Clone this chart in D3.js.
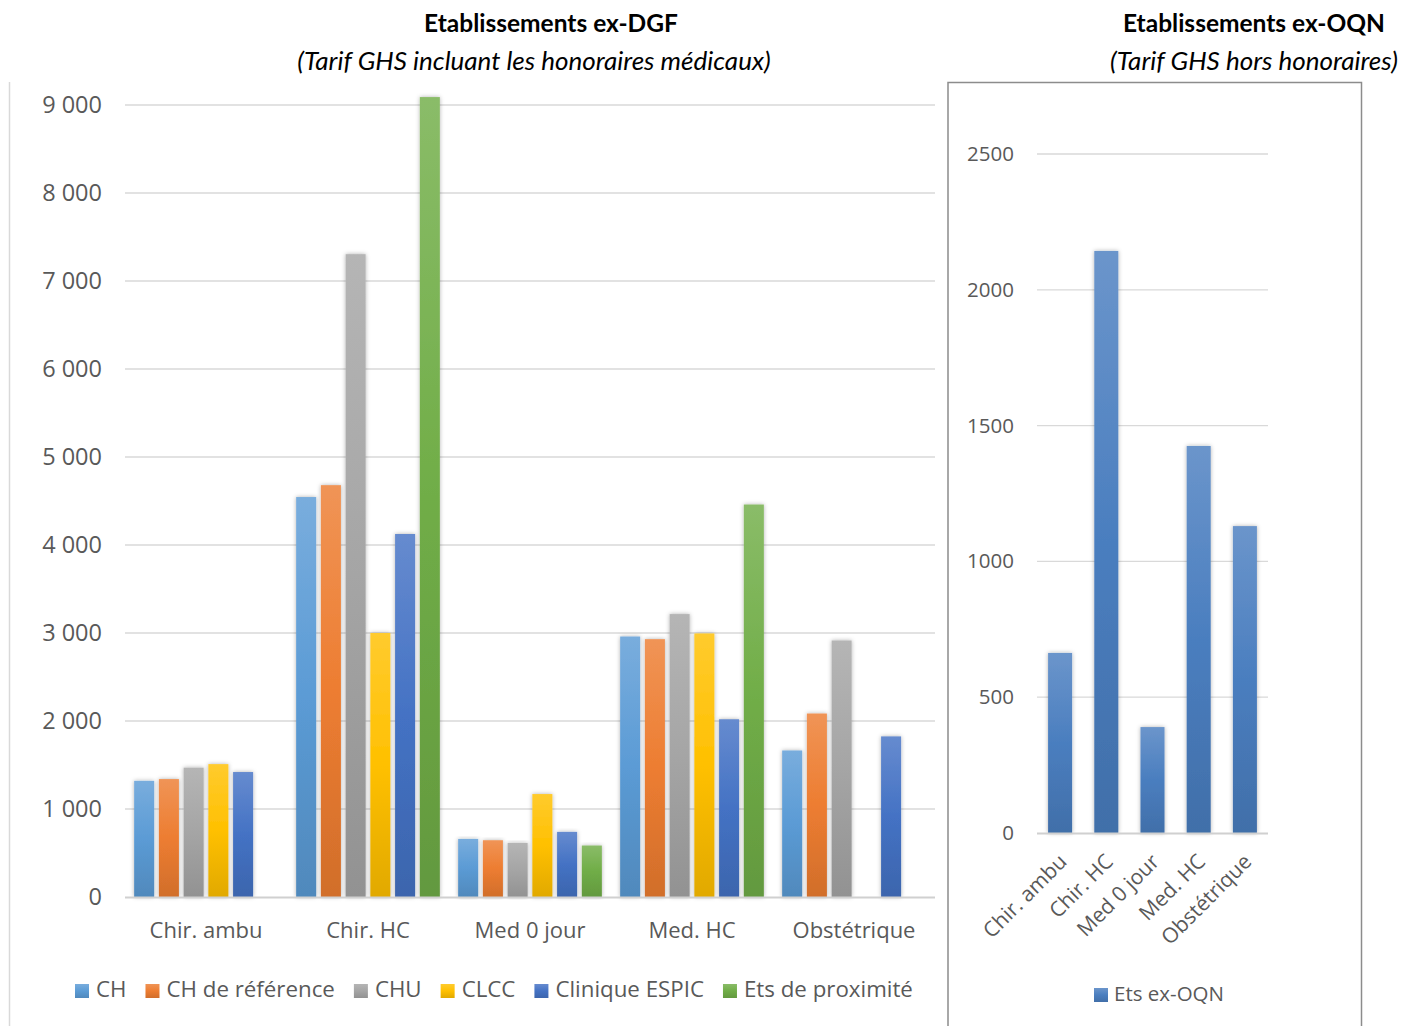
<!DOCTYPE html>
<html>
<head>
<meta charset="utf-8">
<script src="https://cdn.jsdelivr.net/npm/d3@7"></script>
<style>
  body { margin: 0; background: #fff; }
  svg { display: block; font-family: "Open Sans", sans-serif; }
</style>
</head>
<body>
<svg id="chart" width="1403" height="1026"></svg>
<script>
// Data
var categories = ["Chir. ambu", "Chir. HC", "Med 0 jour", "Med. HC", "Obstétrique"];
var seriesNames = ["CH", "CH de référence", "CHU", "CLCC", "Clinique ESPIC", "Ets de proximité"];
var seriesColors = ["#5b9bd5", "#ed7d31", "#a5a5a5", "#ffc000", "#4472c4", "#70ad47"];
// one array per series, in category order (null = no bar)
var valCH      = [1320, 4545, 660, 2960, 1665];
var valCHRef   = [1340, 4680, 645, 2930, 2085];
var valCHU     = [1470, 7305, 615, 3215, 2915];
var valCLCC    = [1510, 3000, 1170, 2995, null];
var valESPIC   = [1420, 4125, 740, 2020, 1825];
var valProx    = [null, 9090, 585, 4460, null];
var seriesValues = [valCH, valCHRef, valCHU, valCLCC, valESPIC, valProx];
var leftTicks = [0, 1000, 2000, 3000, 4000, 5000, 6000, 7000, 8000, 9000];

var oqnName = "Ets ex-OQN";
var oqnValues = [663, 2143, 390, 1425, 1130];
var rightTicks = [0, 500, 1000, 1500, 2000, 2500];

var svg = d3.select("#chart");
var defs = svg.append("defs");

var shadow = defs.append("filter").attr("id", "shadow")
  .attr("x", "-30%").attr("y", "-5%").attr("width", "160%").attr("height", "110%");
shadow.append("feDropShadow").attr("dx", 0).attr("dy", 0)
  .attr("stdDeviation", 2).attr("flood-color", "#000").attr("flood-opacity", 0.3);

function gradient(id, color) {
  var c = d3.color(color);
  var g = defs.append("linearGradient").attr("id", id)
    .attr("x1", 0).attr("y1", 0).attr("x2", 0).attr("y2", 1);
  g.append("stop").attr("offset", "0%").attr("stop-color", d3.interpolateRgb(color, "#fff")(0.18));
  g.append("stop").attr("offset", "50%").attr("stop-color", color);
  g.append("stop").attr("offset", "100%").attr("stop-color", c.darker(0.35));
  return "url(#" + id + ")";
}
var fills = seriesColors.map(function (c, i) { return gradient("g" + i, c); });
var oqnFill = gradient("goqn", "#4a7ebf");

var textColor = "#595959";

// Titles
function title(x, y, txt, bold) {
  svg.append("text").attr("x", x).attr("y", y).attr("text-anchor", "middle")
    .attr("font-family", "Lato, sans-serif")
    .attr("font-weight", bold ? "bold" : null)
    .attr("font-style", bold ? null : "italic")
    .attr("font-size", bold ? 24.5 : 26).text(txt);
}
title(551, 32, "Etablissements ex-DGF", true);
title(534, 70, "(Tarif GHS incluant les honoraires médicaux)", false);
title(1254, 32, "Etablissements ex-OQN", true);
title(1254, 70, "(Tarif GHS hors honoraires)", false);

// ---------- Left chart ----------
svg.append("line").attr("x1", 9.5).attr("x2", 9.5).attr("y1", 82).attr("y2", 1026)
  .attr("stroke", "#d9d9d9").attr("stroke-width", 1.5);

var x0 = d3.scaleBand().domain(categories).range([125, 935]);
var x1 = d3.scaleBand().domain(seriesNames).range([0, x0.bandwidth()])
  .paddingInner(0.19).paddingOuter(0.37);
var y = d3.scaleLinear().domain([0, 9000]).range([897, 105]);

var left = svg.append("g");

left.append("g").selectAll("line").data(leftTicks.slice(1)).join("line")
  .attr("x1", 125).attr("x2", 935)
  .attr("y1", function (d) { return y(d); }).attr("y2", function (d) { return y(d); })
  .attr("stroke", "#d9d9d9").attr("stroke-width", 1.3);

var yAxis = left.append("g").attr("transform", "translate(102,0)")
  .call(d3.axisLeft(y).tickValues(leftTicks).tickSize(0).tickPadding(0)
    .tickFormat(function (d) { return d3.format(",")(d).replace(",", " "); }));
yAxis.select(".domain").remove();
yAxis.selectAll("text").attr("font-size", 23.5).attr("fill", textColor)
  .attr("font-family", "Open Sans, sans-serif");

var groups = left.append("g").selectAll("g").data(categories).join("g")
  .attr("transform", function (d) { return "translate(" + x0(d) + ",0)"; });

groups.selectAll("rect")
  .data(function (c, ci) {
    return seriesNames.map(function (s, si) {
      return { series: s, si: si, value: seriesValues[si][ci] };
    }).filter(function (d) { return d.value != null; });
  })
  .join("rect")
  .attr("x", function (d) { return x1(d.series); })
  .attr("width", x1.bandwidth())
  .attr("y", function (d) { return y(d.value); })
  .attr("height", function (d) { return y(0) - y(d.value); })
  .attr("fill", function (d) { return fills[d.si]; })
  .attr("filter", "url(#shadow)");

left.append("line").attr("x1", 125).attr("x2", 935).attr("y1", y(0) + 0.5).attr("y2", y(0) + 0.5)
  .attr("stroke", "#d0d0d0").attr("stroke-width", 2);

var xAxis = left.append("g").attr("transform", "translate(0," + y(0) + ")")
  .call(d3.axisBottom(x0).tickSize(0).tickPadding(25));
xAxis.select(".domain").remove();
xAxis.selectAll("text").attr("font-size", 22).attr("fill", textColor)
  .attr("font-family", "Open Sans, sans-serif");

// legend
var legend = left.append("g").attr("transform", "translate(75,997)");
var lx = 0;
seriesNames.forEach(function (s, i) {
  var item = legend.append("g").attr("transform", "translate(" + lx + ",0)");
  item.append("rect").attr("x", 0).attr("y", -13).attr("width", 14).attr("height", 14)
    .attr("fill", fills[i]);
  var t = item.append("text").attr("x", 21).attr("y", 0).attr("font-size", 22.3)
    .attr("fill", textColor).text(s);
  lx += 21 + t.node().getComputedTextLength() + 19;
});

// ---------- Right chart ----------
svg.append("rect").attr("x", 948).attr("y", 82.5).attr("width", 413.5).attr("height", 960)
  .attr("fill", "none").attr("stroke", "#8c8c8c").attr("stroke-width", 1.5);

var xr = d3.scaleBand().domain(categories).range([1037, 1268]).paddingInner(0.48).paddingOuter(0.24);
var yr = d3.scaleLinear().domain([0, 2500]).range([833, 154]);

var right = svg.append("g");

right.append("g").selectAll("line").data(rightTicks.slice(1)).join("line")
  .attr("x1", 1037).attr("x2", 1268)
  .attr("y1", function (d) { return yr(d); }).attr("y2", function (d) { return yr(d); })
  .attr("stroke", "#d9d9d9").attr("stroke-width", 1.3);

var yrAxis = right.append("g").attr("transform", "translate(1014,0)")
  .call(d3.axisLeft(yr).tickValues(rightTicks).tickSize(0).tickPadding(0).tickFormat(d3.format("d")));
yrAxis.select(".domain").remove();
yrAxis.selectAll("text").attr("font-size", 20.5).attr("fill", textColor)
  .attr("font-family", "Open Sans, sans-serif");

right.append("g").selectAll("rect").data(oqnValues).join("rect")
  .attr("x", function (d, i) { return xr(categories[i]); })
  .attr("width", xr.bandwidth())
  .attr("y", function (d) { return yr(d); })
  .attr("height", function (d) { return yr(0) - yr(d); })
  .attr("fill", oqnFill)
  .attr("filter", "url(#shadow)");

right.append("line").attr("x1", 1037).attr("x2", 1268).attr("y1", yr(0) + 0.5).attr("y2", yr(0) + 0.5)
  .attr("stroke", "#d0d0d0").attr("stroke-width", 2);

var xrAxis = right.append("g").attr("transform", "translate(0," + yr(0) + ")")
  .call(d3.axisBottom(xr).tickSize(0).tickPadding(0));
xrAxis.select(".domain").remove();
xrAxis.selectAll("text")
  .attr("font-size", 21).attr("fill", textColor).attr("font-family", "Open Sans, sans-serif")
  .attr("text-anchor", "end").attr("dy", 0)
  .attr("transform", "translate(8,30) rotate(-45)");

var rl = right.append("g").attr("transform", "translate(1094,1001)");
rl.append("rect").attr("x", 0).attr("y", -13).attr("width", 14).attr("height", 14).attr("fill", oqnFill);
rl.append("text").attr("x", 20).attr("y", 0).attr("font-size", 20.5).attr("fill", textColor).text(oqnName);
</script>
</body>
</html>
